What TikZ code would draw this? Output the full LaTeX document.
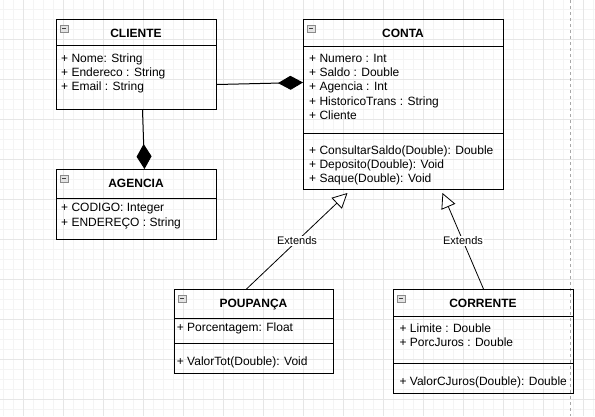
\documentclass[tikz,border=0pt]{standalone}
\usepackage{fontspec}
\setmainfont{Liberation Sans}
\usetikzlibrary{arrows.meta}
\definecolor{gridminor}{HTML}{F4F4F4}
\definecolor{gridmajor}{HTML}{E6E6E6}
\definecolor{iconedge}{HTML}{8A8A8A}
\definecolor{iconfill}{HTML}{E4E4E4}
\definecolor{pagedash}{HTML}{A8A8A8}

\begin{document}
\begin{tikzpicture}[x=1pt,y=-1pt,
  classbox/.style={draw,line width=1pt,inner sep=0pt,anchor=north west},
  classtitle/.style={font=\fontsize{12}{14}\selectfont\bfseries,anchor=base,inner sep=0pt},
  member/.style={font=\fontsize{12}{14}\selectfont,anchor=base west,inner sep=0pt},
  divider/.style={line width=1pt},
  assoc/.style={line width=1pt,-{Diamond[length=25pt,width=14pt]}},
  extends/.style={line width=0.8pt,-{Triangle[open,fill=white,length=15pt,width=15pt]}},
  extlabel/.style={fill=white,inner sep=1pt,font=\fontsize{11}{13}\selectfont}]

\useasboundingbox (0,0) rectangle (595,416);
\fill[white] (0,0) rectangle (595,416);
\foreach \x in {3.3,13.3,...,593.3} \draw[gridminor,line width=0.8pt] (\x,0) -- (\x,416);
\foreach \y in {9.3,19.3,...,409.3} \draw[gridminor,line width=0.8pt] (0,\y) -- (595,\y);
\foreach \x in {23.3,63.3,...,583.3} \draw[gridmajor,line width=0.8pt] (\x,0) -- (\x,416);
\foreach \y in {39.3,79.3,...,399.3} \draw[gridmajor,line width=0.8pt] (0,\y) -- (595,\y);
\draw[pagedash,line width=0.8pt,dash pattern=on 3pt off 3pt] (570.3,0) -- (570.3,416);

\node[classbox,minimum width=160pt,minimum height=90pt] (cliente) at (56,19) {};
\node[classtitle] (cliente-t) at (136,37.7) {CLIENTE};
\draw[divider] ([yshift=-26pt]cliente.north west) -- ([yshift=-26pt]cliente.north east);
\foreach \m [count=\i] in {{+ Nome: String},{+ Endereco : String},{+ Email : String}}
  \node[member] (cliente-a\i) at (61,{62.3+14.3*(\i-1)}) {\m};

\node[classbox,minimum width=200pt,minimum height=170pt] (conta) at (303,19) {};
\node[classtitle] (conta-t) at (403,37.7) {CONTA};
\draw[divider] ([yshift=-27pt]conta.north west) -- ([yshift=-27pt]conta.north east);
\draw[divider] ([yshift=-114pt]conta.north west) -- ([yshift=-114pt]conta.north east);
\foreach \m [count=\i] in {{+ Numero : Int},{+ Saldo : Double},{+ Agencia : Int},{+ HistoricoTrans : String},{+ Cliente}}
  \node[member] (conta-a\i) at (309,{62.7+14.1*(\i-1)}) {\m};
\foreach \m [count=\i] in {{+ ConsultarSaldo(Double): Double},{+ Deposito(Double): Void},{+ Saque(Double): Void}}
  \node[member] (conta-o\i) at (309,{154.3+14*(\i-1)}) {\m};

\node[classbox,minimum width=160pt,minimum height=70pt] (agencia) at (56,169) {};
\node[classtitle] (agencia-t) at (136,187.7) {AGENCIA};
\draw[divider] ([yshift=-29pt]agencia.north west) -- ([yshift=-29pt]agencia.north east);
\foreach \m [count=\i] in {{+ CODIGO: Integer},{+ ENDEREÇO : String}}
  \node[member] (agencia-a\i) at (61,{211.7+15*(\i-1)}) {\m};

\node[classbox,minimum width=159pt,minimum height=84pt] (poupanca) at (174,289) {};
\node[classtitle] (poupanca-t) at (253.5,307.7) {POUPANÇA};
\draw[divider] ([yshift=-29pt]poupanca.north west) -- ([yshift=-29pt]poupanca.north east);
\draw[divider] ([yshift=-54pt]poupanca.north west) -- ([yshift=-54pt]poupanca.north east);
\node[member] (poupanca-a1) at (176.7,331.7) {+ Porcentagem: Float};
\node[member] (poupanca-o1) at (176.7,365) {+ ValorTot(Double): Void};

\node[classbox,minimum width=180pt,minimum height=104pt] (corrente) at (393,289) {};
\node[classtitle] (corrente-t) at (483,307.7) {CORRENTE};
\draw[divider] ([yshift=-27pt]corrente.north west) -- ([yshift=-27pt]corrente.north east);
\draw[divider] ([yshift=-74pt]corrente.north west) -- ([yshift=-74pt]corrente.north east);
\foreach \m [count=\i] in {{+ Limite : Double},{+ PorcJuros : Double}}
  \node[member] (corrente-a\i) at (399.4,{332.3+14.4*(\i-1)}) {\m};
\node[member] (corrente-o1) at (399.4,385) {+ ValorCJuros(Double): Double};

\foreach \c in {cliente,conta,agencia,poupanca,corrente} {
  \draw[iconedge,fill=iconfill,line width=0.6pt] ([shift={(4,6)}]\c.north west) rectangle ++(8,7);
  \draw[black!75,line width=0.8pt] ([shift={(6,9.5)}]\c.north west) -- ++(4,0);
}

\draw[assoc] ([yshift=-20pt]cliente.east) -- ([yshift=22pt]conta.west);
\draw[assoc,-{Diamond[length=25pt,width=15pt]}] ([xshift=6pt]cliente.south) -- ([xshift=8pt]agencia.north);
\draw[extends] ([xshift=-7.5pt]poupanca.north) -- node[extlabel] (ext1) {Extends} ([xshift=-56pt,yshift=-3pt]conta.south);
\draw[extends] (corrente.north) -- node[extlabel] (ext2) {Extends} ([xshift=39pt,yshift=-3pt]conta.south);
\end{tikzpicture}
\end{document}
